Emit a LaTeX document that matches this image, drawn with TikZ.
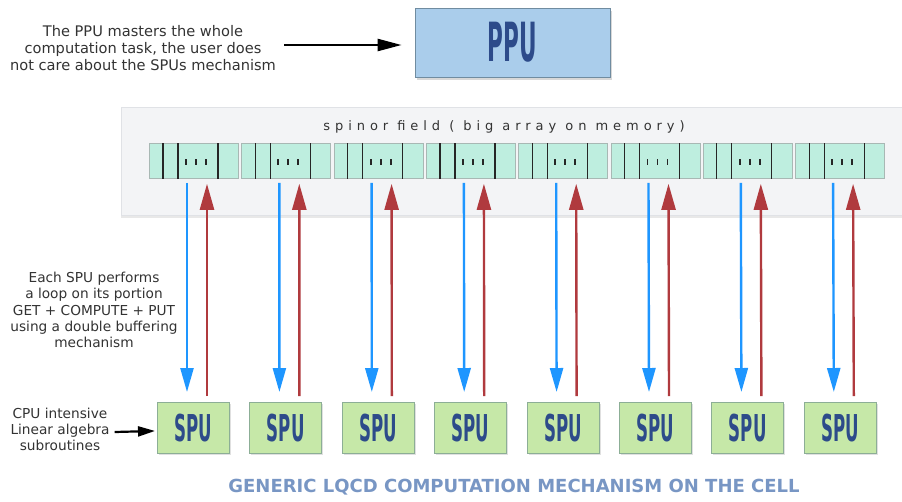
\documentclass[tikz,border=0pt]{standalone}
\usepackage{fontspec}
\setmainfont{DejaVu Sans}
\newfontfamily\spacedfont[LetterSpace=38]{DejaVu Sans}
\usetikzlibrary{arrows.meta,shadows,calc}
\definecolor{ppufill}{RGB}{170,205,235}
\definecolor{ppuborder}{RGB}{112,140,160}
\definecolor{boxtext}{RGB}{45,75,138}
\definecolor{spufill}{RGB}{198,232,168}
\definecolor{spuborder}{RGB}{140,174,150}
\definecolor{memfill}{RGB}{190,238,223}
\definecolor{memborder}{RGB}{168,184,180}
\definecolor{panelfill}{RGB}{243,244,246}
\definecolor{panelborder}{RGB}{224,226,230}
\definecolor{bluearrow}{RGB}{30,150,255}
\definecolor{redarrow}{RGB}{176,58,62}
\definecolor{captioncol}{RGB}{120,150,196}
\newcommand{\spulabel}{\scalebox{0.45}[1]{\fontsize{37}{37}\selectfont\bfseries SPU}}
\newcommand{\ppulabel}{\scalebox{0.4}[1]{\fontsize{54}{54}\selectfont\bfseries PPU}}
\begin{document}
\begin{tikzpicture}[x=1pt,y=-1pt,
  ppubox/.style={draw=ppuborder, fill=ppufill, line width=0.8pt, minimum width=195pt, minimum height=69pt, inner sep=0pt, text=boxtext,
    drop shadow={shadow xshift=2pt, shadow yshift=-3pt, opacity=0.25, fill=black!60}},
  spubox/.style={draw=spuborder, fill=spufill, line width=0.8pt, minimum width=72pt, minimum height=51pt, inner sep=0pt, text=boxtext,
    drop shadow={shadow xshift=1.5pt, shadow yshift=-2pt, opacity=0.2, fill=black!60}},
  membox/.style={draw=memborder, fill=memfill, line width=0.8pt, minimum width=89pt, minimum height=35pt, inner sep=0pt},
  panelbox/.style={draw=panelborder, fill=panelfill, line width=0.8pt, minimum width=784pt, minimum height=108pt, inner sep=0pt,
    drop shadow={shadow xshift=0pt, shadow yshift=-3pt, opacity=0.15, fill=black!60}},
  divider/.style={line width=1.2pt, black!85},
  dotbar/.style={line width=1.8pt, black!85},
  bluearr/.style={line width=2.4pt, bluearrow, -{Triangle[length=24pt,width=13pt]}},
  redarr/.style={line width=2.4pt, redarrow, -{Triangle[length=26pt,width=14pt]}},
  blackarr/.style={line width=2.4pt, black, -{Triangle[length=24pt,width=12pt]}},
  note/.style={align=center, text=black!80, inner sep=0pt},
]
\useasboundingbox (0,0) rectangle (902,501);
\fill[white] (0,0) rectangle (902,501);

% PPU
\node[ppubox] (ppu) at (512.5,42.5) {\ppulabel};
\node[note, font=\fontsize{14.6}{17}\selectfont] (ppunote) at (143,48) {The PPU masters the whole\\computation task, the user does\\not care about the SPUs mechanism};
\coordinate (ppuarrstart) at ($(ppunote.east |- ppu.west)+(8,2.5)$);
\draw[blackarr, shorten >=13pt] (ppuarrstart) -- (ppuarrstart -| ppu.west);

% memory panel
\node[panelbox, anchor=north west] (panel) at (121,107) {};
\node[inner sep=0pt, font=\fontsize{13}{13}\selectfont\spacedfont, text=black!80] (spinor) at (504,127) {spinor field ( big array on memory)};

\foreach \i in {0,...,7} {
  \pgfmathsetmacro\ml{149+92.3*\i}
  \pgfmathsetmacro\sl{157+92.4*\i}
  \node[membox, anchor=north west] (mem\i) at (\ml,143) {};
  \foreach \d in {14,29,69} {
    \draw[divider] ([xshift=\d pt]mem\i.north west) -- ([xshift=\d pt]mem\i.south west);
  }
  \foreach \d in {37,47,57} {
    \draw[dotbar] ([xshift=\d pt,yshift=-16pt]mem\i.north west) -- ([xshift=\d pt,yshift=-22pt]mem\i.north west);
  }
  \node[spubox, anchor=north west] (spu\i) at (\sl,402) {\spulabel};
  \draw[bluearr] ([xshift=38pt,yshift=-4pt]mem\i.south west) -- ([xshift=30pt,yshift=10pt]spu\i.north west);
  \draw[redarr] ([xshift=50pt,yshift=6pt]spu\i.north west) -- ([xshift=58pt,yshift=-5pt]mem\i.south west);
}

% left notes
\node[note, font=\fontsize{13.7}{16.2}\selectfont] (loopnote) at (94,310) {Each SPU performs\\a loop on its portion\\GET + COMPUTE + PUT\\using a double buffering\\mechanism};
\node[note, font=\fontsize{13.7}{16}\selectfont] (cpunote) at (60,429) {CPU intensive\\Linear algebra\\subroutines};
\draw[line width=2.2pt, black, -{Triangle[length=17pt,width=10pt]}, shorten >=2pt] ([xshift=5pt,yshift=-3pt]cpunote.east) -- ([yshift=-3pt]spu0.west);

% caption
\node[inner sep=0pt, font=\fontsize{18}{18}\selectfont\bfseries, text=captioncol] (caption) at (514,487) {GENERIC LQCD COMPUTATION MECHANISM ON THE CELL};
\end{tikzpicture}
\end{document}
